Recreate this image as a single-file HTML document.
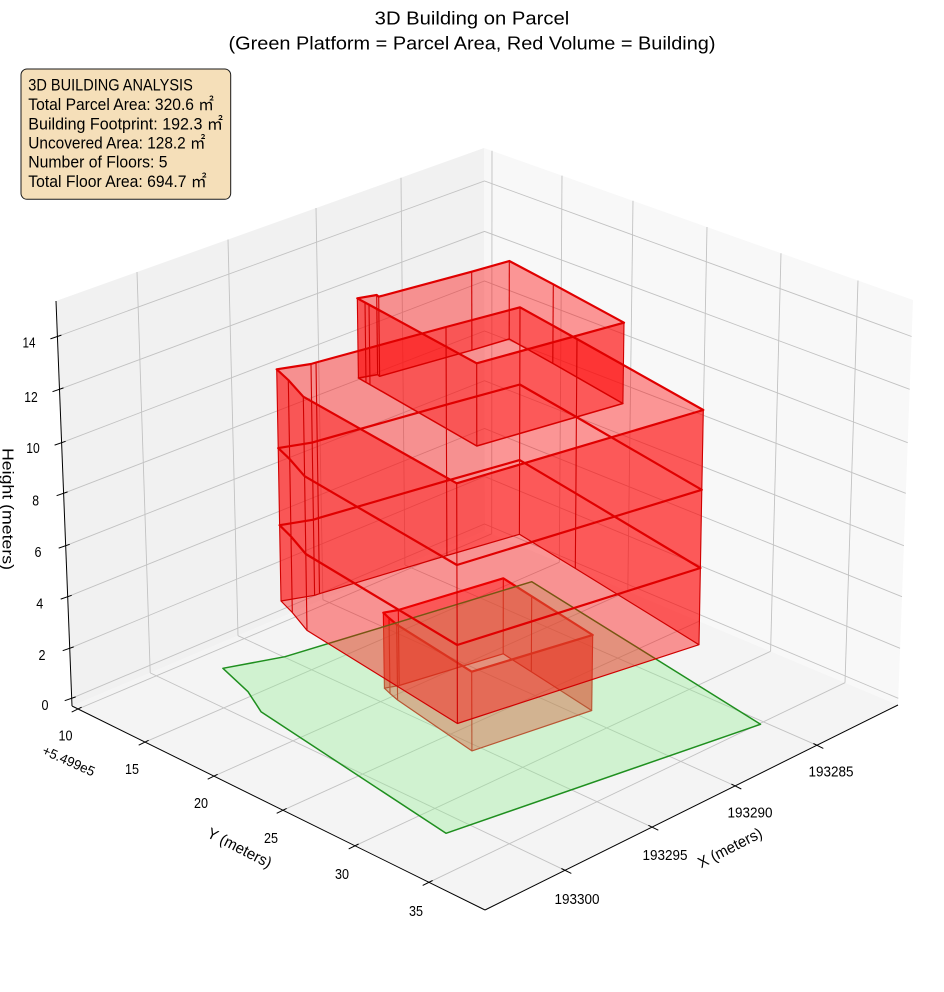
<!DOCTYPE html>
<html><head><meta charset="utf-8"><style>
html,body{margin:0;padding:0;background:#fff;}
svg{display:block;}
text{font-family:"Liberation Sans","Noto Sans CJK JP",sans-serif;fill:#000;}
</style></head><body>
<svg width="944" height="992" viewBox="0 0 944 992" xmlns="http://www.w3.org/2000/svg">
<rect width="944" height="992" fill="#fff"/>
<!-- panes -->
<polygon points="56,301 484,148 485,531 72,706" fill="#f1f1f1"/>
<polygon points="484,148 913,300 898,705 485,531" fill="#f8f8f8"/>
<polygon points="72,706 485,531 898,705 485,910" fill="#f4f4f4"/>
<!-- grid -->
<g stroke="#c2c2c2" stroke-width="0.9" fill="none">
<line x1="137" y1="272" x2="150.2" y2="672.9"/>
<line x1="228" y1="239.5" x2="238" y2="635.7"/>
<line x1="316" y1="208" x2="322.9" y2="599.7"/>
<line x1="401" y1="177.7" x2="404.9" y2="565"/>
<line x1="492" y1="150.8" x2="491.7" y2="533.8"/>
<line x1="562" y1="175.6" x2="559.3" y2="562.3"/>
<line x1="633" y1="200.8" x2="627.8" y2="591.2"/>
<line x1="707" y1="227" x2="699.2" y2="621.2"/>
<line x1="781" y1="253.2" x2="770.6" y2="651.3"/>
<line x1="858" y1="280.5" x2="845" y2="682.7"/>
<polyline points="57.4,336.5 484.5,181 911.6,336.5"/>
<polyline points="59.5,389.3 484.5,231.4 909.7,389.3"/>
<polyline points="61.6,442.7 484.5,281 907.7,442.7"/>
<polyline points="63.6,493.3 484.5,331 905.8,493.3"/>
<polyline points="65.7,545.7 484.5,380.7 903.9,545.7"/>
<polyline points="67.7,596.7 484.5,428.5 902,596.7"/>
<polyline points="69.7,648.3 484.5,476.5 900.1,648.3"/>
<polyline points="71.7,698.3 484.5,524 898.3,698.3"/>
<line x1="150.2" y1="672.9" x2="565" y2="870.3"/>
<line x1="238" y1="635.7" x2="652" y2="827.1"/>
<line x1="322.9" y1="599.7" x2="735" y2="785.9"/>
<line x1="404.9" y1="565" x2="817" y2="745.3"/>
<line x1="491.7" y1="533.8" x2="78" y2="709"/>
<line x1="559.3" y1="562.3" x2="145" y2="742.1"/>
<line x1="627.8" y1="591.2" x2="214" y2="776.1"/>
<line x1="699.2" y1="621.2" x2="283" y2="810.2"/>
<line x1="770.6" y1="651.3" x2="355" y2="845.8"/>
<line x1="845" y1="682.7" x2="429" y2="882.3"/>
</g>
<!-- axes lines and ticks -->
<g stroke="#000" stroke-width="1" fill="none">
<line x1="56" y1="301" x2="72" y2="706"/>
<line x1="72" y1="706" x2="485" y2="910"/>
<line x1="485" y1="910" x2="898" y2="705"/>
<line x1="61.4" y1="335.1" x2="50.4" y2="338.9"/>
<line x1="63.5" y1="387.9" x2="52.5" y2="391.7"/>
<line x1="65.6" y1="441.3" x2="54.6" y2="445.1"/>
<line x1="67.6" y1="491.9" x2="56.6" y2="495.7"/>
<line x1="69.7" y1="544.3" x2="58.7" y2="548.1"/>
<line x1="71.7" y1="595.3" x2="60.7" y2="599.1"/>
<line x1="73.7" y1="646.9" x2="62.7" y2="650.7"/>
<line x1="75.7" y1="696.9" x2="64.7" y2="700.7"/>
<line x1="81.6" y1="707.2" x2="71.7" y2="712.1"/>
<line x1="148.6" y1="740.3" x2="138.7" y2="745.2"/>
<line x1="217.6" y1="774.3" x2="207.7" y2="779.2"/>
<line x1="286.6" y1="808.4" x2="276.7" y2="813.3"/>
<line x1="358.6" y1="844" x2="348.7" y2="848.9"/>
<line x1="432.6" y1="880.5" x2="422.7" y2="885.4"/>
<line x1="813.4" y1="743.5" x2="823.3" y2="748.4"/>
<line x1="731.4" y1="784.1" x2="741.3" y2="789"/>
<line x1="648.4" y1="825.3" x2="658.3" y2="830.2"/>
<line x1="561.4" y1="868.5" x2="571.3" y2="873.4"/>
</g>
<!-- tick labels -->
<g font-size="14.5" text-anchor="middle">
<text x="29" y="347.5" textLength="13" lengthAdjust="spacingAndGlyphs">14</text>
<text x="31" y="402" textLength="13.5" lengthAdjust="spacingAndGlyphs">12</text>
<text x="33" y="453" textLength="13.5" lengthAdjust="spacingAndGlyphs">10</text>
<text x="35.7" y="505.5" textLength="6.8" lengthAdjust="spacingAndGlyphs">8</text>
<text x="38" y="557" textLength="7" lengthAdjust="spacingAndGlyphs">6</text>
<text x="39.7" y="608.5" textLength="7" lengthAdjust="spacingAndGlyphs">4</text>
<text x="42" y="660" textLength="7" lengthAdjust="spacingAndGlyphs">2</text>
<text x="45" y="710" textLength="7" lengthAdjust="spacingAndGlyphs">0</text>
<text x="65.5" y="740.5" textLength="14" lengthAdjust="spacingAndGlyphs">10</text>
<text x="132" y="774" textLength="14" lengthAdjust="spacingAndGlyphs">15</text>
<text x="201" y="808" textLength="14" lengthAdjust="spacingAndGlyphs">20</text>
<text x="271" y="843" textLength="14" lengthAdjust="spacingAndGlyphs">25</text>
<text x="342" y="879" textLength="14" lengthAdjust="spacingAndGlyphs">30</text>
<text x="416" y="916" textLength="14" lengthAdjust="spacingAndGlyphs">35</text>
<text x="831" y="776.5" textLength="45" lengthAdjust="spacingAndGlyphs">193285</text>
<text x="750" y="817.5" textLength="45" lengthAdjust="spacingAndGlyphs">193290</text>
<text x="665" y="860" textLength="45" lengthAdjust="spacingAndGlyphs">193295</text>
<text x="577" y="904" textLength="45" lengthAdjust="spacingAndGlyphs">193300</text>
</g>
<!-- axis labels -->
<g font-size="15.5" text-anchor="middle">
<text transform="translate(239.5,848) rotate(27)" y="5" textLength="70" lengthAdjust="spacingAndGlyphs">Y (meters)</text>
<text transform="translate(730,848) rotate(-27)" y="5" textLength="70" lengthAdjust="spacingAndGlyphs">X (meters)</text>
<text transform="translate(68.7,761) rotate(24)" y="4.5" font-size="13.5" textLength="56" lengthAdjust="spacingAndGlyphs">+5.499e5</text>
<text transform="translate(2.5,509) rotate(90)" y="0" textLength="122" lengthAdjust="spacingAndGlyphs">Height (meters)</text>
</g>

<!-- floor 1 (drawn beneath parcel) -->
<g fill="#ff0000" fill-opacity="0.4" stroke="none">
<polygon points="383.3,612.7 398.3,610 503.3,578.3 503.2,653.8 399.2,685.5 384.4,688.2"/>
<polygon points="503.3,578.3 531.7,596.3 592.7,635 591.7,710.5 531.3,671.8 503.2,653.8"/>
<polygon points="592.7,635 471.7,671.7 471.9,750.9 591.7,710.5"/>
<polygon points="471.7,671.7 396.7,624.5 397.6,700 471.9,750.9"/>
<polygon points="396.7,624.5 389,618 383.3,612.7 384.4,688.2 390,693.5 397.6,700"/>
</g>
<g stroke="#d00000" stroke-width="1.1" fill="none">
<line x1="383.3" y1="612.7" x2="384.4" y2="688.2"/>
<line x1="398.3" y1="610" x2="399.2" y2="685.5"/>
<line x1="503.3" y1="578.3" x2="503.2" y2="653.8"/>
<line x1="531.7" y1="596.3" x2="531.3" y2="671.8"/>
<line x1="592.7" y1="635" x2="591.7" y2="710.5"/>
<line x1="471.7" y1="671.7" x2="471.9" y2="750.9"/>
<line x1="396.7" y1="624.5" x2="397.6" y2="700"/>
<line x1="389" y1="618" x2="390" y2="693.5"/>
</g>
<g fill="none" stroke-linejoin="round">
<polygon stroke="#d00000" stroke-width="1.2" points="384.4,688.2 399.2,685.5 503.2,653.8 531.3,671.8 591.7,710.5 471.9,750.9 397.6,700 390,693.5"/>
<polygon stroke="#e00000" stroke-width="2.2" points="383.3,612.7 398.3,610 503.3,578.3 531.7,596.3 592.7,635 471.7,671.7 396.7,624.5 389,618"/>
</g>

<!-- parcel -->
<polygon points="222.9,668.3 285,656.7 531.8,581.7 760.5,724.3 446,833.3 261,711.7 248,691.7" fill="#90ee90" fill-opacity="0.36" stroke="#1f8f1f" stroke-width="1.5" stroke-linejoin="round"/>

<!-- upper building walls -->
<g fill="#ff0000" fill-opacity="0.4" stroke="none">
<!-- floor 2 -->
<polygon points="279.6,525.2 313.4,519.7 318.4,518.1 319.5,593.7 314.6,595.3 281,601"/>
<polygon points="318.4,518.1 446.6,480.8 519.6,460.1 519.4,534.3 446.9,555.5 319.5,593.7"/>
<polygon points="519.6,460.1 575.9,493.4 700.4,568 699,644.7 575.3,568.4 519.4,534.3"/>
<polygon points="700.4,568 457.2,645 457.4,723.5 699,644.7"/>
<polygon points="457.2,645 305.8,554 307,630.4 457.4,723.5"/>
<polygon points="305.8,554 291,536.5 279.6,525.2 281,601 292.3,612.5 307,630.4"/>
<!-- floor 3 -->
<polygon points="278.2,448.1 312.2,442.6 317.2,441.1 318.4,518.1 313.4,519.7 279.6,525.2"/>
<polygon points="317.2,441.1 446.3,404.7 519.8,384.5 519.6,460.1 446.6,480.8 318.4,518.1"/>
<polygon points="519.8,384.5 576.4,417 701.8,489.8 700.4,568 575.9,493.4 519.6,460.1"/>
<polygon points="701.8,489.8 456.9,565 457.2,645 700.4,568"/>
<polygon points="456.9,565 304.6,476.2 305.8,554 457.2,645"/>
<polygon points="304.6,476.2 289.7,459.1 278.2,448.1 279.6,525.2 291,536.5 305.8,554"/>
<!-- floor 4 -->
<polygon points="276.7,369.3 311,364 316,362.5 317.2,441.1 312.2,442.6 278.2,448.1"/>
<polygon points="316,362.5 446,327 520,307.3 519.8,384.5 446.3,404.7 317.2,441.1"/>
<polygon points="520,307.3 577,339 703.3,410 701.8,489.8 576.4,417 519.8,384.5"/>
<polygon points="703.3,410 456.7,483.3 456.9,565 701.8,489.8"/>
<polygon points="456.7,483.3 303.3,396.7 304.6,476.2 456.9,565"/>
<polygon points="303.3,396.7 288.3,380 276.7,369.3 278.2,448.1 289.7,459.1 304.6,476.2"/>
<!-- floor 5 -->
<polygon points="357.3,298.3 376.7,295 378.7,296.7 379.6,376.3 377.6,374.6 358.4,378"/>
<polygon points="378.7,296.7 471.7,271.7 509.3,261 509.2,339 471.9,350.2 379.6,376.3"/>
<polygon points="509.3,261 553.3,284.3 624,322.7 622.9,403.5 552.8,363.4 509.2,339"/>
<polygon points="624,322.7 476.7,363.3 476.8,446 622.9,403.5"/>
<polygon points="476.7,363.3 369,304.6 365,302.5 357.3,298.3 358.4,378 366,382.4 370,384.6 476.8,446"/>
</g>
<!-- vertical edges -->
<g stroke="#d00000" stroke-width="1.1" fill="none">
<polyline points="276.7,369.3 278.2,448.1 279.6,525.2 281,601"/>
<polyline points="311,364 312.2,442.6 313.4,519.7 314.6,595.3"/>
<polyline points="316,362.5 317.2,441.1 318.4,518.1 319.5,593.7"/>
<polyline points="446,327 446.3,404.7 446.6,480.8 446.9,555.5"/>
<polyline points="520,307.3 519.8,384.5 519.6,460.1 519.4,534.3"/>
<polyline points="577,339 576.4,417 575.9,493.4 575.3,568.4"/>
<polyline points="703.3,410 701.8,489.8 700.4,568 699,644.7"/>
<polyline points="456.7,483.3 456.9,565 457.2,645 457.4,723.5"/>
<polyline points="303.3,396.7 304.6,476.2 305.8,554 307,630.4"/>
<polyline points="288.3,380 289.7,459.1 291,536.5 292.3,612.5"/>
<line x1="357.3" y1="298.3" x2="358.4" y2="378"/>
<line x1="376.7" y1="295" x2="377.6" y2="374.6"/>
<line x1="378.7" y1="296.7" x2="379.6" y2="376.3"/>
<line x1="471.7" y1="271.7" x2="471.9" y2="350.2"/>
<line x1="509.3" y1="261" x2="509.2" y2="339"/>
<line x1="553.3" y1="284.3" x2="552.8" y2="363.4"/>
<line x1="624" y1="322.7" x2="622.9" y2="403.5"/>
<line x1="476.7" y1="363.3" x2="476.8" y2="446"/>
<line x1="369" y1="304.6" x2="370" y2="384.6"/>
<line x1="365" y1="302.5" x2="366" y2="382.4"/>
</g>
<!-- horizontal outlines -->
<g fill="none" stroke-linejoin="round">
<polygon stroke="#d00000" stroke-width="1.2" points="281,601 314.6,595.3 319.5,593.7 446.9,555.5 519.4,534.3 575.3,568.4 699,644.7 457.4,723.5 307,630.4 292.3,612.5"/>
<polygon stroke="#d80000" stroke-width="1.5" points="358.4,378 377.6,374.6 379.6,376.3 471.9,350.2 509.2,339 552.8,363.4 622.9,403.5 476.8,446 370,384.6 366,382.4"/>
<polygon stroke="#e00000" stroke-width="2.2" points="279.6,525.2 313.4,519.7 318.4,518.1 446.6,480.8 519.6,460.1 575.9,493.4 700.4,568 457.2,645 305.8,554 291,536.5"/>
<polygon stroke="#e00000" stroke-width="2.2" points="278.2,448.1 312.2,442.6 317.2,441.1 446.3,404.7 519.8,384.5 576.4,417 701.8,489.8 456.9,565 304.6,476.2 289.7,459.1"/>
<polygon stroke="#e00000" stroke-width="2.2" points="276.7,369.3 311,364 316,362.5 446,327 520,307.3 577,339 703.3,410 456.7,483.3 303.3,396.7 288.3,380"/>
<polygon stroke="#e00000" stroke-width="2.2" points="357.3,298.3 376.7,295 378.7,296.7 471.7,271.7 509.3,261 553.3,284.3 624,322.7 476.7,363.3 369,304.6 365,302.5"/>
</g>
<!-- title -->
<text x="472" y="24.5" text-anchor="middle" font-size="18" textLength="194.6" lengthAdjust="spacingAndGlyphs">3D Building on Parcel</text>
<text x="472" y="49.5" text-anchor="middle" font-size="18" textLength="487" lengthAdjust="spacingAndGlyphs">(Green Platform = Parcel Area, Red Volume = Building)</text>
<!-- info box -->
<rect x="21" y="69" width="209.7" height="130.3" rx="6" ry="6" fill="#f5dfb9" stroke="#1a1a1a" stroke-width="1"/>
<g font-size="16.5">
<text x="28.3" y="90.5" textLength="164.5" lengthAdjust="spacingAndGlyphs">3D BUILDING ANALYSIS</text>
<text x="28.3" y="110" textLength="185.6" lengthAdjust="spacingAndGlyphs">Total Parcel Area: 320.6 ㎡</text>
<text x="28.3" y="129.3" textLength="194.6" lengthAdjust="spacingAndGlyphs">Building Footprint: 192.3 ㎡</text>
<text x="28.3" y="148.5" textLength="177.1" lengthAdjust="spacingAndGlyphs">Uncovered Area: 128.2 ㎡</text>
<text x="28.3" y="167.7" textLength="139.2" lengthAdjust="spacingAndGlyphs">Number of Floors: 5</text>
<text x="28.3" y="187" textLength="178.3" lengthAdjust="spacingAndGlyphs">Total Floor Area: 694.7 ㎡</text>
</g>
</svg>
</body></html>
